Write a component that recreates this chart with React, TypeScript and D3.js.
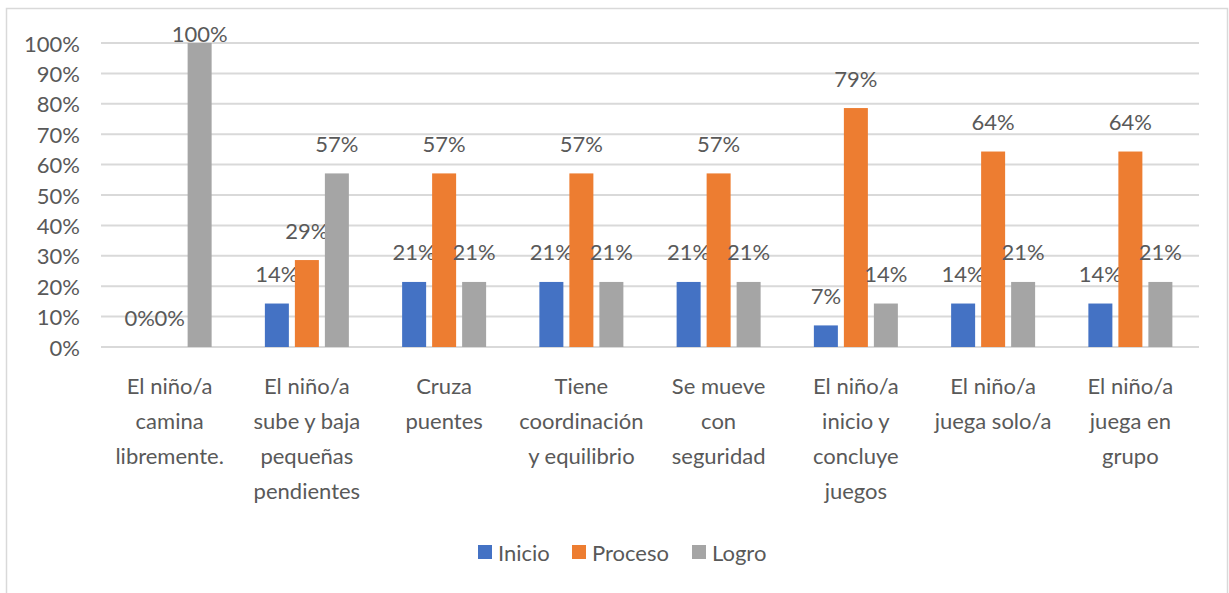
import React from 'react';
import * as d3 from 'd3';

const categories: string[][] = [
  ['El niño/a', 'camina', 'libremente.'],
  ['El niño/a', 'sube y baja', 'pequeñas', 'pendientes'],
  ['Cruza', 'puentes'],
  ['Tiene', 'coordinación', 'y equilibrio'],
  ['Se mueve', 'con', 'seguridad'],
  ['El niño/a', 'inicio y', 'concluye', 'juegos'],
  ['El niño/a', 'juega solo/a'],
  ['El niño/a', 'juega en', 'grupo'],
];
const inicio = [0, 14.3, 21.4, 21.4, 21.4, 7.1, 14.3, 14.3];
const proceso = [0, 28.6, 57.1, 57.1, 57.1, 78.6, 64.3, 64.3];
const logro = [100, 57.1, 21.4, 21.4, 21.4, 14.3, 21.4, 21.4];
const seriesNames = ['Inicio', 'Proceso', 'Logro'];
const seriesColors = ['#4472C4', '#ED7D31', '#A5A5A5'];
const yTicks = [0, 10, 20, 30, 40, 50, 60, 70, 80, 90, 100];

const W = 1229;
const H = 593;
const FONT = 'Lato, "Open Sans", sans-serif';
const TEXT = '#595959';

export default function App() {
  const series = [inicio, proceso, logro];
  const left = 101, right = 1199, top = 43, bottom = 347;
  const x0 = d3.scaleBand<number>().domain(categories.map((_, i) => i)).range([left, right]);
  const groupW = 84;
  const x1 = d3.scaleBand<string>().domain(seriesNames).range([0, groupW]).paddingInner(0.2);
  const y = d3.scaleLinear().domain([0, 100]).range([bottom, top]);
  const fmt = (v: number) => `${Math.round(v)}%`;

  const legendX = [478, 572, 692];

  return (
    <svg width={W} height={H} style={{ position: 'absolute', left: 0, top: 0, background: '#fff' }}
      fontFamily={FONT}>
      <rect x={6.5} y={8.5} width={1221} height={620} fill="#fff" stroke="#D9D9D9" strokeWidth={1.5} />
      {yTicks.map(t => (
        <g key={t}>
          <line x1={left} x2={right} y1={y(t)} y2={y(t)} stroke="#D9D9D9" strokeWidth={2} />
          <text x={80} y={y(t)} textAnchor="end" dominantBaseline="central" fontSize={22} fill={TEXT}>{t}%</text>
        </g>
      ))}
      {categories.map((lines, i) => {
        const gx = (x0(i) as number) + (x0.bandwidth() - groupW) / 2;
        const cx = (x0(i) as number) + x0.bandwidth() / 2;
        return (
          <g key={i}>
            {series.map((s, j) => {
              const bx = gx + (x1(seriesNames[j]) as number);
              const v = s[i];
              return (
                <g key={j}>
                  <rect x={bx} y={y(v)} width={x1.bandwidth()} height={bottom - y(v)} fill={seriesColors[j]} />
                  <text x={bx + x1.bandwidth() / 2} y={Math.max(y(v) - 30, top - 10)} textAnchor="middle"
                    dominantBaseline="central" fontSize={22} fill={TEXT}>{fmt(v)}</text>
                </g>
              );
            })}
            {lines.map((ln, k) => (
              <text key={k} x={cx} y={385 + k * 35} textAnchor="middle" dominantBaseline="central"
                fontSize={22} fill={TEXT}>{ln}</text>
            ))}
          </g>
        );
      })}
      {seriesNames.map((n, j) => (
        <g key={n}>
          <rect x={legendX[j]} y={545} width={14} height={14} fill={seriesColors[j]} />
          <text x={legendX[j] + 20} y={552} dominantBaseline="central" fontSize={22} fill={TEXT}>{n}</text>
        </g>
      ))}
    </svg>
  );
}
